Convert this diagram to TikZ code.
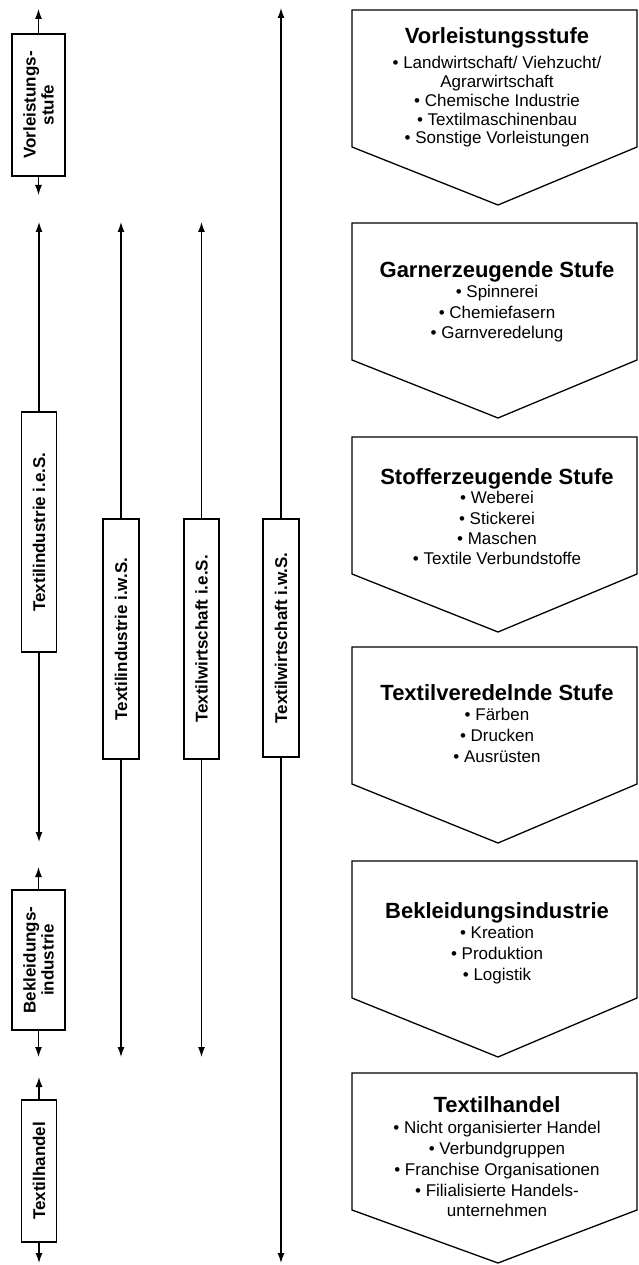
\documentclass[tikz,border=0pt]{standalone}
\usepackage{fontspec}
\setmainfont{Liberation Sans}
\usetikzlibrary{arrows.meta}

\begin{document}
\begin{tikzpicture}[x=1pt,y=-1pt,
  line width=1.3pt,
  tip/.style={-{Latex[length=10pt,width=7pt]}},
  widebox/.style={draw, fill=white, rotate=90, minimum height=53pt, inner sep=0pt,
    align=center, font=\fontsize{17}{18}\selectfont\bfseries},
  narrowbox/.style={draw, fill=white, rotate=90, minimum height=35pt, inner sep=0pt,
    font=\fontsize{17}{18}\selectfont\bfseries},
  stage/.style={draw, line join=miter},
  stagetitle/.style={anchor=base, inner sep=0pt, font=\fontsize{22}{24}\selectfont\bfseries},
  stageitems/.style={anchor=north, inner sep=0pt, align=center},
]
\useasboundingbox (0,0) rectangle (638,1265);

% value-chain stages (arrow-shaped pentagons)
\foreach \t/\d in {10/195, 223/195, 437/195, 647/196, 861/196, 1073/190}{
  \draw[stage] (352,\t) -- (637,\t) -- (637,\t+137) -- (498,\t+\d) -- (352,\t+137) -- cycle;
}

% stage texts
\node[stagetitle] (t1) at (497,44) {Vorleistungsstufe};
\node[stageitems, font=\fontsize{17}{18.75}\selectfont] (i1) at (497,56)
  {• Landwirtschaft/ Viehzucht/\\Agrarwirtschaft\\• Chemische Industrie\\• Textilmaschinenbau\\• Sonstige Vorleistungen};

\node[stagetitle] (t2) at (497,277) {Garnerzeugende Stufe};
\node[stageitems, font=\fontsize{17}{20.5}\selectfont] (i2) at (497,285)
  {• Spinnerei\\• Chemiefasern\\• Garnveredelung};

\node[stagetitle] (t3) at (497,484) {Stofferzeugende Stufe};
\node[stageitems, font=\fontsize{17}{20.3}\selectfont] (i3) at (497,491)
  {• Weberei\\• Stickerei\\• Maschen\\• Textile Verbundstoffe};

\node[stagetitle] (t4) at (497,700) {Textilveredelnde Stufe};
\node[stageitems, font=\fontsize{17}{21}\selectfont] (i4) at (497,708)
  {• Färben\\• Drucken\\• Ausrüsten};

\node[stagetitle] (t5) at (497,918) {Bekleidungsindustrie};
\node[stageitems, font=\fontsize{17}{21}\selectfont] (i5) at (497,926)
  {• Kreation\\• Produktion\\• Logistik};

\node[stagetitle] (t6) at (497,1112) {Textilhandel};
\node[stageitems, font=\fontsize{17}{20.7}\selectfont] (i6) at (497,1121)
  {• Nicht organisierter Handel\\• Verbundgruppen\\• Franchise Organisationen\\• Filialisierte Handels-\\unternehmen};

% first column: single stages
\node[widebox, minimum width=142pt] (vor) at (38.5,105) {Vorleistungs-\\stufe};
\coordinate (vorT) at (38.5,9);
\coordinate (vorB) at (38.5,195);
\draw[tip] (vor.east) -- (vorT);
\draw[tip] (vor.west) -- (vorB);

\node[narrowbox, minimum width=240pt] (tiecs) at (39,532) {Textilindustrie i.e.S.};
\coordinate (tiecsT) at (39,222);
\coordinate (tiecsB) at (39,842);
\draw[tip] (tiecs.east) -- (tiecsT);
\draw[tip] (tiecs.west) -- (tiecsB);

\node[widebox, minimum width=140pt] (bek) at (38.5,960) {Bekleidungs-\\industrie};
\coordinate (bekT) at (38.5,867);
\coordinate (bekB) at (38.5,1057);
\draw[tip] (bek.east) -- (bekT);
\draw[tip] (bek.west) -- (bekB);

\node[narrowbox, minimum width=142pt] (th) at (39,1171) {Textilhandel};
\coordinate (thT) at (39,1077);
\coordinate (thB) at (39,1263);
\draw[tip] (th.east) -- (thT);
\draw[tip] (th.west) -- (thB);

% wider groupings
\node[narrowbox, minimum width=240pt, minimum height=36pt] (tiws) at (121,639) {Textilindustrie i.w.S.};
\coordinate (tiwsT) at (121,222);
\coordinate (tiwsB) at (121,1057);
\draw[tip] (tiws.east) -- (tiwsT);
\draw[tip] (tiws.west) -- (tiwsB);

\node[narrowbox, minimum width=240pt] (twes) at (201.5,639) {Textilwirtschaft i.e.S.};
\coordinate (twesT) at (201.5,222);
\coordinate (twesB) at (201.5,1057);
\draw[tip] (twes.east) -- (twesT);
\draw[tip] (twes.west) -- (twesB);

\node[narrowbox, minimum width=238pt, minimum height=36pt] (twws) at (281,638) {Textilwirtschaft i.w.S.};
\coordinate (twwsT) at (281,8);
\coordinate (twwsB) at (281,1263);
\draw[tip] (twws.east) -- (twwsT);
\draw[tip] (twws.west) -- (twwsB);
\end{tikzpicture}
\end{document}
